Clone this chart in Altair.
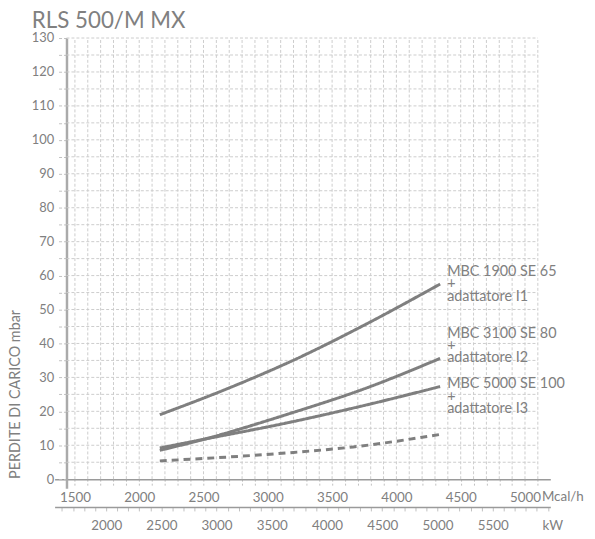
import altair as alt
import pandas as pd

# ---------------- data ----------------
chart_title = "RLS 500/M MX"
y_title = "PERDITE DI CARICO mbar"

# curves: x in Mcal/h, y in mbar
c1_x = [2160, 2700, 3230, 3760, 4340]
c1_y = [19.0, 26.9, 35.6, 45.6, 57.5]
c2_x = [2160, 2507, 3150, 3769, 4340]
c2_y = [8.5, 11.8, 19.1, 26.9, 35.6]
c3_x = [2160, 2507, 3150, 3769, 4340]
c3_y = [9.2, 11.8, 16.6, 21.9, 27.3]
c4_x = [2160, 3200, 3664, 4340]
c4_y = [5.4, 7.9, 9.5, 13.2]

series_names = ["MBC 1900 SE 65", "MBC 3100 SE 80", "MBC 5000 SE 100", "adattatore"]

label_text = [
    "MBC 1900 SE 65\n+\nadattatore I1",
    "MBC 3100 SE 80\n+\nadattatore I2",
    "MBC 5000 SE 100\n+\nadattatore I3",
]
label_x = [4395, 4395, 4395]
label_y = [61.1, 42.9, 28.0]

mcal_ticks = list(range(1500, 5101, 100))
mbar_ticks = list(range(0, 131, 5))
kw_ticks = list(range(1600, 6001, 100))
grid_h = list(range(5, 131, 5))

# ---------------- build tables ----------------
rows = []
for name, xs_, ys_ in zip(series_names, [c1_x, c2_x, c3_x, c4_x], [c1_y, c2_y, c3_y, c4_y]):
    for i, (a, b) in enumerate(zip(xs_, ys_)):
        rows.append({"s": name, "m": a, "p": b, "o": i, "dash": name == "adattatore"})
curves = pd.DataFrame(rows)
labels = pd.DataFrame({"m": label_x, "p": label_y, "t": label_text})
gv = pd.DataFrame({"m": mcal_ticks})
gh = pd.DataFrame({"p": grid_h})
kw = pd.DataFrame({"k": kw_ticks})

GRAY = "#808080"
FONT = "Lato"
XDOM = [1342, 5197]
YDOM = [-2.63, 130]
KDOM = [1533, 6022]
Y_AXIS_POS = 1434.5
GRID_END = 5100

xs = alt.Scale(domain=XDOM, nice=False, zero=False)
ys = alt.Scale(domain=YDOM, nice=False, zero=False)

x_axis = alt.Axis(
    values=mcal_ticks,
    labelExpr="datum.value % 500 == 0 && datum.value <= 5000 ? datum.label : ''",
    format="d", offset=-9, grid=False,
    domainColor="#9a9a9a", domainWidth=1.5,
    tickColor="#c0c0c0", tickSize=8, tickDash=[2, 2], tickWidth=1,
    labelPadding=3, labelFont=FONT, labelFontSize=13.5, labelColor=GRAY,
    labelOverlap=False, labelFlush=False,
    title="Mcal/h", titleFont=FONT, titleFontSize=13.5, titleFontWeight="normal",
    titleColor=GRAY, titleX=491, titleY=17, titleAlign="left", titleBaseline="middle",
    titleAnchor="start", orient="bottom",
)
y_axis = alt.Axis(
    values=mbar_ticks,
    labelExpr="datum.value % 10 == 0 ? datum.label : ''",
    offset=-12, grid=False,
    domainColor="#aaaaaa", domainWidth=2.5,
    tickColor="#c0c0c0", tickSize=10, tickDash=[3, 2], tickWidth=1,
    labelPadding=3, labelFont=FONT, labelFontSize=13, labelColor=GRAY,
    labelOverlap=False, labelFlush=False,
    title=y_title, titleFont=FONT, titleFontSize=14.5, titleFontWeight="normal",
    titleColor=GRAY, titleAngle=-90, titleX=-51, titleY=359,
    titleAlign="center", titleBaseline="middle",
)
kw_axis = alt.Axis(
    values=kw_ticks,
    labelExpr="datum.value % 500 == 0 && datum.value >= 2000 && datum.value <= 5500 ? datum.label : ''",
    format="d", offset=19, grid=False, orient="bottom",
    domainColor="#9a9a9a", domainWidth=1.5,
    tickColor="#c0c0c0", tickSize=4, tickWidth=1,
    labelPadding=8, labelFont=FONT, labelFontSize=13.5, labelColor=GRAY,
    labelOverlap=False, labelFlush=False,
    title="kW", titleFont=FONT, titleFontSize=13.5, titleFontWeight="normal",
    titleColor=GRAY, titleX=502, titleY=19, titleAlign="center", titleBaseline="middle",
)

grid_v = alt.Chart(gv).mark_rule(color="#cccccc", strokeDash=[3, 2], strokeWidth=1).encode(
    x=alt.X("m:Q", scale=xs, axis=x_axis),
    y=alt.Y(datum=0, scale=ys, axis=y_axis),
    y2=alt.Y2(datum=130),
)
grid_hz = alt.Chart(gh).mark_rule(color="#cccccc", strokeDash=[3, 2], strokeWidth=1).encode(
    y=alt.Y("p:Q", scale=ys, axis=y_axis),
    x=alt.X(datum=Y_AXIS_POS, scale=xs, axis=x_axis),
    x2=alt.X2(datum=GRID_END),
)
lines = alt.Chart(curves).mark_line(color="#7f7f7f", strokeWidth=3, interpolate="monotone").encode(
    x=alt.X("m:Q", scale=xs, axis=x_axis),
    y=alt.Y("p:Q", scale=ys, axis=y_axis),
    detail="s:N",
    order="o:Q",
    strokeDash=alt.StrokeDash("dash:N", scale=alt.Scale(domain=[False, True], range=[[1, 0], [7, 5]]), legend=None),
)
texts = alt.Chart(labels).mark_text(
    align="left", baseline="middle", lineBreak="\n", lineHeight=12.5,
    font=FONT, fontSize=14.5, color=GRAY,
).encode(
    x=alt.X("m:Q", scale=xs, axis=x_axis),
    y=alt.Y("p:Q", scale=ys, axis=y_axis),
    text="t:N",
)
main = alt.layer(grid_v, grid_hz, lines, texts)

kw_layer = alt.Chart(kw).mark_point(opacity=0).encode(
    x=alt.X("k:Q", scale=alt.Scale(domain=KDOM, nice=False, zero=False), axis=kw_axis),
)

chart = alt.layer(main, kw_layer).resolve_scale(x="independent").properties(
    width=500, height=454,
    autosize=alt.AutoSizeParams(type="none"),
    padding={"left": 47, "top": 28, "right": 37, "bottom": 46},
    title=alt.TitleParams(
        chart_title, anchor="start", frame="group", font=FONT, fontSize=22.5,
        fontWeight="normal", color=GRAY, dx=-23, dy=20, offset=2, baseline="alphabetic",
    ),
).configure_view(stroke=None)

chart.save("out.html", embed_options={"renderer": "svg", "actions": False})
